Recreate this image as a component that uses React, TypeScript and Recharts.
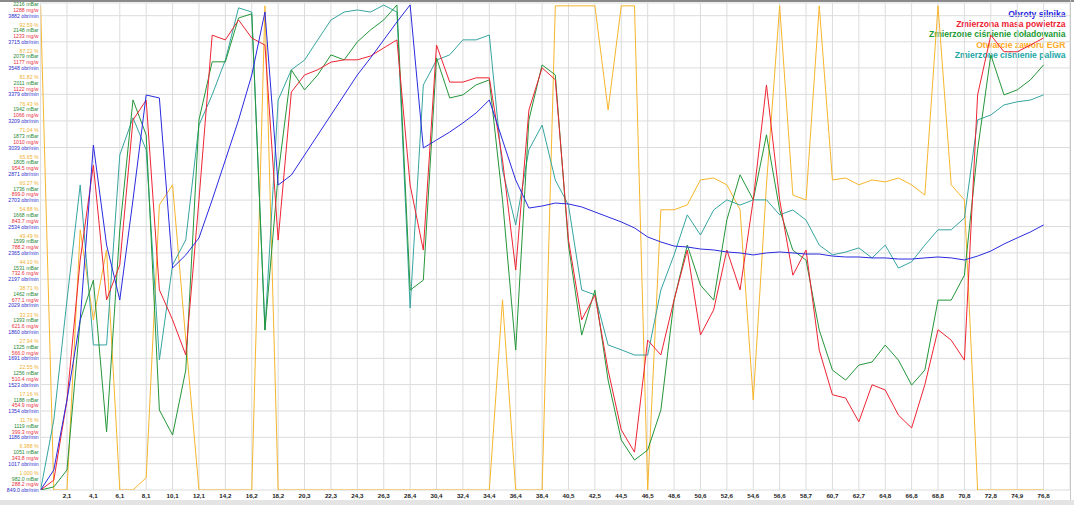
import React from 'react';
import { LineChart, Line, XAxis, YAxis, CartesianGrid } from 'recharts';

const TIME_LABELS = [
  '0,0', '1,0', '2,1', '3,1', '4,1', '5,1', '6,1', '7,1', '8,1', '9,1',
  '10,1', '11,1', '12,1', '13,1', '14,2', '15,2', '16,2', '17,2', '18,2', '19,3',
  '20,3', '21,3', '22,3', '23,3', '24,3', '25,3', '26,3', '27,4', '28,4', '29,4',
  '30,4', '31,4', '32,4', '33,4', '34,4', '35,4', '36,4', '37,4', '38,4', '39,5',
  '40,5', '41,5', '42,5', '43,5', '44,5', '45,5', '46,5', '47,6', '48,6', '49,6',
  '50,6', '51,6', '52,6', '53,6', '54,6', '55,6', '56,6', '57,7', '58,7', '59,7',
  '60,7', '61,7', '62,7', '63,8', '64,8', '65,8', '66,8', '67,8', '68,8', '69,8',
  '70,8', '71,8', '72,8', '73,9', '74,9', '75,9', '76,8',
];

// Obroty silnika [obr/min]
const RPM = [
  849, 977, 1425, 1936, 3055, 2416, 2064, 2704, 3375, 3356,
  2269, 2352, 2461, 2704, 2959, 3215, 3503, 3906, 2799, 2863,
  2991, 3119, 3247, 3375, 3503, 3612, 3727, 3842, 3951, 3036,
  3087, 3138, 3196, 3260, 3343, 3087, 2831, 2652, 2665, 2684,
  2678, 2659, 2627, 2595, 2563, 2525, 2467, 2435, 2409, 2403,
  2390, 2384, 2371, 2365, 2352, 2365, 2371, 2365, 2358, 2358,
  2345, 2339, 2339, 2333, 2333, 2326, 2326, 2333, 2339, 2333,
  2320, 2345, 2377, 2422, 2461, 2499, 2544,
];

// Zmierzona masa powietrza [mg/w]
const MAF = [
  288.2, 309, 478, 773, 973, 689, 763, 1068, 1110, 710,
  647, 573, 900, 1247, 1237, 1279, 1241, 1226, 815, 1127,
  1163, 1174, 1190, 1195, 1195, 1203, 1220, 1237, 931, 794,
  1226, 1148, 1148, 1157, 1157, 984, 752, 1089, 1178, 1153,
  815, 647, 699, 541, 415, 368, 604, 573, 689, 794,
  615, 668, 794, 710, 900, 1142, 900, 741, 794, 583,
  489, 482, 432, 510, 499, 446, 419, 510, 626, 604,
  562, 1121, 1247, 1212, 1212, 1226, 1241,
];

// Zmierzone ciśnienie doładowania [mBar]
const BOOST = [
  982, 990, 1034, 1424, 1528, 1133, 1659, 1997, 1906, 1190,
  1125, 1294, 1945, 2096, 2096, 2210, 2221, 1398, 1802, 2075,
  2023, 2062, 2114, 2101, 2148, 2179, 2205, 2244, 1502, 1528,
  2106, 2002, 2010, 2036, 2049, 1737, 1346, 1945, 2088, 2062,
  1619, 1385, 1502, 1268, 1112, 1060, 1086, 1190, 1476, 1619,
  1515, 1476, 1685, 1802, 1737, 1906, 1711, 1606, 1580, 1398,
  1294, 1268, 1307, 1315, 1359, 1320, 1255, 1294, 1476, 1476,
  1541, 1867, 2114, 2010, 2023, 2049, 2088,
];

// Otwarcie zaworu EGR [%]
const EGR = [
  100, 1, 1, 54.2, 35.8, 50.1, 1, 1, 3.5, 59.3,
  63.4, 31.7, 1, 1, 1, 1, 1, 100, 1, 1,
  1, 1, 1, 1, 1, 1, 1, 1, 1, 1,
  1, 1, 1, 1, 1, 39.9, 1, 1, 1, 100,
  100, 100, 100, 78.7, 100, 100, 1, 58.3, 58.3, 59.3,
  64.4, 64.8, 63.4, 58.3, 19.4, 63.4, 100, 61.3, 60.3, 100,
  64.4, 64.8, 63.4, 64.4, 64.0, 64.8, 63.4, 61.3, 100, 63.4,
  60.3, 1, 1, 1, 1, 1, 1,
];

// Zmierzone ciśnienie paliwa [bar]
const FUEL = [
  250, 451, 796, 1127, 667, 667, 1213, 1320, 1228, 624,
  897, 969, 1299, 1386, 1486, 1636, 1624, 710, 1371, 1458,
  1486, 1544, 1601, 1624, 1630, 1624, 1644, 1624, 773, 1414,
  1486, 1501, 1544, 1544, 1558, 1170, 1012, 1228, 1299, 1141,
  1069, 825, 811, 667, 653, 638, 638, 825, 926, 1041,
  983, 1055, 1084, 1069, 1084, 1084, 1041, 1055, 1026, 954,
  926, 934, 946, 917, 954, 888, 906, 954, 998, 998,
  1032, 1314, 1328, 1357, 1366, 1371, 1386,
];

const RPM_TICKS = [849, 1017, 1186, 1354, 1523, 1691, 1860, 2029, 2197, 2365, 2534, 2703, 2871, 3039, 3209, 3379, 3548, 3715, 3882];
const MAF_TICKS = [288.2, 343.8, 399.3, 454.9, 510.4, 566.0, 621.6, 677.1, 732.6, 788.2, 843.7, 899.0, 954.5, 1010, 1066, 1122, 1177, 1233, 1288];
const BOOST_TICKS = [982.0, 1051, 1119, 1188, 1256, 1325, 1393, 1462, 1531, 1599, 1668, 1736, 1805, 1873, 1942, 2011, 2079, 2148, 2216];
const EGR_TICKS = [1.0, 6.388, 11.76, 17.16, 22.55, 27.94, 33.33, 38.71, 44.10, 49.49, 54.88, 60.27, 65.65, 71.04, 76.43, 81.82, 87.22, 92.59];
const X_TICKS = [2, 4, 6, 8, 10, 12, 14, 16, 18, 20, 22, 24, 26, 28, 30, 32, 34, 36, 38, 40, 42, 44, 46, 48, 50, 52, 54, 56, 58, 60, 62, 64, 66, 68, 70, 72, 74, 76];

const SERIES_NAMES = [
  'Obroty silnika',
  'Zmierzona masa powietrza',
  'Zmierzone ciśnienie doładowania',
  'Otwarcie zaworu EGR',
  'Zmierzone ciśnienie paliwa',
];
const COLORS = ['#2a2ae0', '#ee2433', '#24963a', '#f7b52c', '#35a5a0'];
const LEGEND_COLORS = ['#2323dd', '#ee2233', '#239a33', '#ffaa22', '#22a6a6'];

const STEPS = 487 / 26.35;
const FONT = "Arial, 'Liberation Sans', sans-serif";
const LABEL_RIGHT = 38.6;

const fmt = (v: number) => Number(v).toPrecision(4);

// One axis draws the staggered label group for every gridline
const YTick = (props: any) => {
  const { y, payload } = props;
  const k = RPM_TICKS.indexOf(payload.value);
  const rows: { text: string; color: string; dy: number }[] = [];
  if (k >= 0 && k < EGR_TICKS.length) rows.push({ text: `${fmt(EGR_TICKS[k])} %`, color: '#f0b030', dy: -17.3 });
  if (k >= 0) {
    rows.push({ text: `${fmt(BOOST_TICKS[k])} mBar`, color: '#2a8a35', dy: -11.5 });
    rows.push({ text: `${fmt(MAF_TICKS[k])} mg/w`, color: '#e83040', dy: -5.8 });
    rows.push({ text: `${fmt(RPM_TICKS[k])} obr/min`, color: '#2a2acc', dy: 0 });
  }
  return (
    <g>
      {rows.map((r) => (
        <text
          key={r.text}
          x={LABEL_RIGHT}
          y={y + r.dy}
          textAnchor="end"
          dominantBaseline="central"
          fontSize={5.2}
          fill={r.color}
          fontFamily={FONT}
        >
          {r.text}
        </text>
      ))}
    </g>
  );
};

const XTick = (props: any) => {
  const { x, y, payload } = props;
  return (
    <text
      x={x}
      y={y}
      dy="0.71em"
      textAnchor="middle"
      fontSize={6.2}
      fontWeight="bold"
      fill="#222"
      fontFamily={FONT}
    >
      {TIME_LABELS[payload.value]}
    </text>
  );
};

export default function App() {
  const data = TIME_LABELS.map((t, i) => ({
    i,
    t,
    rpm: RPM[i],
    maf: MAF[i],
    boost: BOOST[i],
    egr: EGR[i],
    fuel: FUEL[i],
  }));

  return (
    <div
      style={{
        position: 'absolute',
        left: 0,
        top: 0,
        width: 1074,
        height: 505,
        background: '#fff',
        overflow: 'hidden',
        fontFamily: FONT,
      }}
    >
      <div
        style={{
          position: 'absolute',
          right: 8.5,
          top: 8.8,
          zIndex: 0,
          textAlign: 'right',
          fontSize: 8.6,
          fontWeight: 'bold',
          lineHeight: '10.3px',
          whiteSpace: 'nowrap',
        }}
      >
        {SERIES_NAMES.map((n, k) => (
          <div key={n} style={{ color: LEGEND_COLORS[k] }}>
            {n}
          </div>
        ))}
      </div>
      <div style={{ position: 'absolute', left: 0, top: 0, zIndex: 1 }}>
        <LineChart
          width={1074}
          height={505}
          data={data}
          margin={{ top: 3, right: 4, bottom: 0, left: 0 }}
        >
          <CartesianGrid yAxisId="rpm" stroke="#dcdcdc" strokeWidth={1} />
          <XAxis
            dataKey="i"
            type="number"
            domain={[0, 78]}
            ticks={X_TICKS}
            height={15}
            axisLine={false}
            tickLine={false}
            tickSize={0}
            tickMargin={3.5}
            tick={<XTick />}
            interval={0}
            allowDataOverflow
          />
          <YAxis
            yAxisId="rpm"
            type="number"
            domain={[849, 849 + 168.5 * STEPS]}
            ticks={RPM_TICKS}
            width={40.6}
            axisLine={false}
            tickLine={false}
            tickSize={0}
            tickMargin={2}
            interval={0}
            allowDataOverflow
            tick={<YTick />}
          />
          <YAxis yAxisId="maf" type="number" domain={[288.2, 288.2 + 55.544 * STEPS]} hide allowDataOverflow />
          <YAxis yAxisId="boost" type="number" domain={[982, 982 + 68.556 * STEPS]} hide allowDataOverflow />
          <YAxis yAxisId="egr" type="number" domain={[1, 1 + 5.388 * STEPS]} hide allowDataOverflow />
          <YAxis yAxisId="fuel" type="number" domain={[250, 1650]} hide allowDataOverflow />
          <Line yAxisId="egr" dataKey="egr" name={SERIES_NAMES[3]} stroke={COLORS[3]} strokeWidth={1} dot={false} isAnimationActive={false} type="linear" />
          <Line yAxisId="fuel" dataKey="fuel" name={SERIES_NAMES[4]} stroke={COLORS[4]} strokeWidth={1} dot={false} isAnimationActive={false} type="linear" />
          <Line yAxisId="boost" dataKey="boost" name={SERIES_NAMES[2]} stroke={COLORS[2]} strokeWidth={1} dot={false} isAnimationActive={false} type="linear" />
          <Line yAxisId="maf" dataKey="maf" name={SERIES_NAMES[1]} stroke={COLORS[1]} strokeWidth={1} dot={false} isAnimationActive={false} type="linear" />
          <Line yAxisId="rpm" dataKey="rpm" name={SERIES_NAMES[0]} stroke={COLORS[0]} strokeWidth={1} dot={false} isAnimationActive={false} type="linear" />
        </LineChart>
      </div>
      <div style={{ position: 'absolute', left: 0, top: 0, width: 1074, height: 2, background: '#8a8a8a', zIndex: 2 }} />
      <div style={{ position: 'absolute', left: 1070, top: 0, width: 1, height: 500, background: '#c8c8c8', zIndex: 2 }} />
      <div style={{ position: 'absolute', left: 0, top: 500, width: 1074, height: 5, background: '#e4e4e4', zIndex: 2 }} />
    </div>
  );
}
